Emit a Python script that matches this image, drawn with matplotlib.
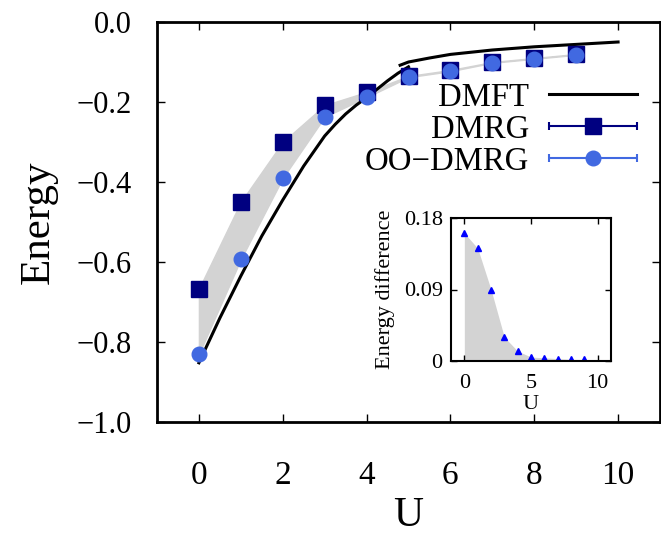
import numpy as np
import matplotlib.pyplot as plt
from matplotlib.legend_handler import HandlerErrorbar

plt.rcParams['font.family'] = ['Liberation Serif', 'DejaVu Serif']
plt.rcParams['axes.unicode_minus'] = True

# ---- data ----
U = [0, 1, 2, 3, 4, 5, 6, 7, 8, 9]
E_dmrg = [-0.667, -0.450, -0.300, -0.208, -0.175, -0.135, -0.120, -0.100, -0.090, -0.080]
E_oo = [-0.830, -0.593, -0.390, -0.237, -0.188, -0.138, -0.123, -0.102, -0.092, -0.082]

# DMFT, two branches (metallic / insulating)
U_dmft1 = [0, 0.5, 1, 1.5, 2, 2.5, 3, 3.25, 3.5, 3.75, 4, 4.25, 4.5, 4.75, 5.0]
E_dmft1 = [-0.852, -0.740, -0.635, -0.535, -0.445, -0.360, -0.285, -0.256, -0.230, -0.208,
           -0.189, -0.168, -0.147, -0.128, -0.112]
U_dmft2 = [4.8, 5.0, 5.5, 6, 7, 8, 9, 10]
E_dmft2 = [-0.108, -0.100, -0.090, -0.081, -0.070, -0.062, -0.056, -0.050]

# inset: DMRG - OO-DMRG
dE = [0.161, 0.142, 0.090, 0.030, 0.0125, 0.005, 0.004, 0.003, 0.002, 0.002]

# ---- main panel ----
fig = plt.figure(figsize=(6.61, 5.37), dpi=100)
ax = fig.add_axes([157/661, 1-422/537, 503/661, 400/537])

ax.fill_between(U, E_dmrg, E_oo, color='lightgray', lw=1.0, edgecolor='lightgray', zorder=1)
ax.plot(U_dmft1, E_dmft1, color='black', lw=2.2, zorder=3, label='DMFT')
ax.plot(U_dmft2, E_dmft2, color='black', lw=2.2, zorder=3)
ax.errorbar(U, E_dmrg, xerr=0, fmt='s', color='#000080', ms=11, elinewidth=1.5,
            capsize=3, capthick=1.5, zorder=4, label='DMRG')
ax.errorbar(U, E_oo, xerr=0, fmt='o', color='#4169E1', ms=10.5, elinewidth=1.5,
            capsize=3, capthick=1.5, zorder=5, label='OO\u2212DMRG')

ax.set_xlim(-1, 11)
ax.set_ylim(-1.0, 0.0)
ax.set_xticks([0, 2, 4, 6, 8, 10])
ax.set_yticks([-1.0, -0.8, -0.6, -0.4, -0.2, 0.0])
ax.set_yticklabels(['\u22121.0', '\u22120.8', '\u22120.6', '\u22120.4', '\u22120.2', '0.0'])
ax.tick_params(direction='in', top=True, right=True, length=6, width=1)
ax.tick_params(axis='x', labelsize=24, pad=28)
ax.tick_params(axis='y', labelsize=22, pad=18)
for s in ax.spines.values():
    s.set_linewidth(2)
ax.set_xlabel('U', fontsize=30, labelpad=4)
ax.set_ylabel('Energy', fontsize=31, labelpad=14)

h, l = ax.get_legend_handles_labels()
leg = ax.legend(h, l, loc='upper right', bbox_to_anchor=((637-157)/503, 0.85),
                frameon=False, markerfirst=False, fontsize=23.6, handlelength=2.7,
                handletextpad=0.6, labelspacing=0.05, borderpad=0, borderaxespad=0,
                handler_map={type(h[1]): HandlerErrorbar(xerr_size=1.35)})

# ---- inset ----
axi = fig.add_axes([451/661, 1-361/537, 160/661, 143/537])
axi.fill_between(U, 0, dE, color='lightgray', lw=0)
axi.plot(U, dE, '^', color='blue', ms=5)
axi.set_xlim(-1, 11)
axi.set_ylim(0, 0.18)
axi.set_xticks([0, 5, 10])
axi.set_yticks([0, 0.09, 0.18])
axi.set_yticklabels(['0', '0.09', '0.18'])
axi.tick_params(direction='in', top=True, right=True, length=4, width=1, labelsize=16, pad=6)
axi.tick_params(axis='x', pad=9)
for s in axi.spines.values():
    s.set_linewidth(1.5)
axi.set_xlabel('U', fontsize=16, labelpad=2)
axi.set_ylabel('Energy difference', fontsize=16, labelpad=6)

fig.savefig('out.png', dpi=100)
